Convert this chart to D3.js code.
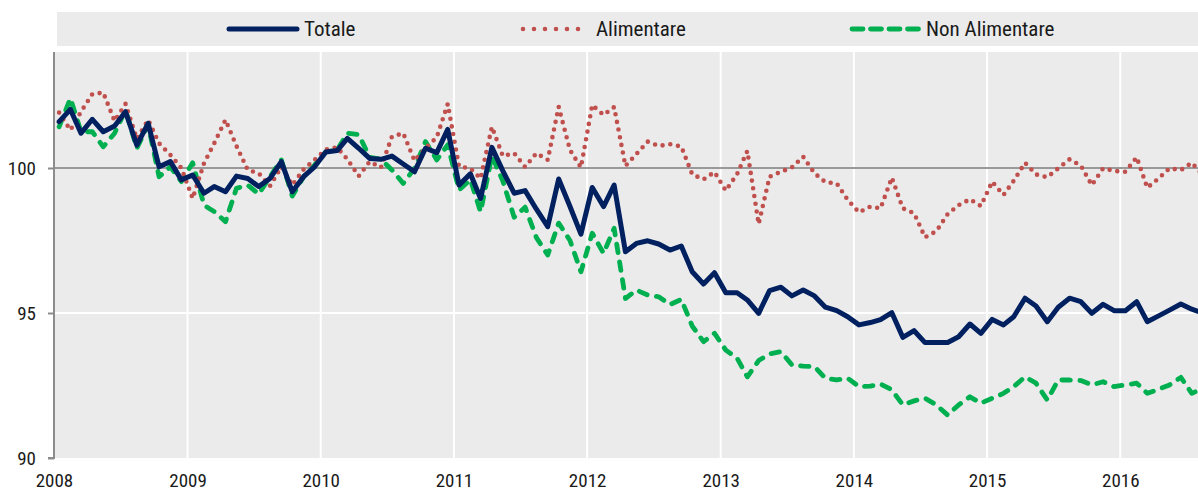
<!DOCTYPE html>
<html>
<head>
<meta charset="utf-8">
<script src="https://cdn.jsdelivr.net/npm/d3@7"></script>
<style>
  html, body { margin: 0; padding: 0; background: #ffffff; }
  svg { display: block; }
  text { font-family: "Liberation Sans Narrow", "Arial Narrow", "Roboto Condensed", "Liberation Sans", sans-serif; fill: #1a1a1a; }
</style>
</head>
<body>
<svg id="chart" width="1198" height="493"></svg>
<script>
// ---- Data (monthly, Jan 2008 onward) ----
const startMonth = "2008-01";
const seriesNames = ["Totale", "Alimentare", "Non Alimentare"];
const yTicks = [90, 95, 100];
const xTickYears = [2008, 2009, 2010, 2011, 2012, 2013, 2014, 2015, 2016];

const totale = [
  101.60, 102.02, 101.20, 101.68, 101.25, 101.45, 101.94, 100.79, 101.54, 100.04, 100.22, 99.59,
  99.76, 99.13, 99.36, 99.18, 99.72, 99.64, 99.36, 99.64, 100.22, 99.18, 99.70, 100.04,
  100.55, 100.60, 101.02, 100.68, 100.33, 100.30, 100.41, 100.14, 99.87, 100.68, 100.53, 101.33,
  99.41, 99.80, 98.95, 100.71, 99.90, 99.13, 99.22, 98.58, 97.98, 99.62, 98.67, 97.72,
  99.33, 98.67, 99.41, 97.11, 97.40, 97.49, 97.38, 97.17, 97.31, 96.42, 96.00, 96.39,
  95.70, 95.70, 95.45, 94.99, 95.77, 95.89, 95.59, 95.79, 95.59, 95.20, 95.08, 94.87,
  94.59, 94.67, 94.77, 95.01, 94.16, 94.39, 93.98, 93.98, 93.98, 94.18, 94.62, 94.30,
  94.78, 94.59, 94.87, 95.51, 95.24, 94.70, 95.20, 95.51, 95.39, 94.99, 95.30, 95.08,
  95.08, 95.39, 94.70, 94.90, 95.10, 95.31, 95.13, 95.00
];

const alimentare = [
  101.91, 101.31, 101.94, 102.55, 102.60, 101.62, 102.21, 101.00, 101.66, 100.85, 100.45, 100.00,
  98.95, 100.16, 100.85, 101.66, 100.76, 99.93, 99.82, 99.38, 100.04, 99.41, 99.95, 100.28,
  100.64, 100.71, 100.30, 99.72, 100.22, 100.02, 101.08, 101.20, 100.25, 100.68, 101.06, 102.21,
  100.05, 99.99, 99.64, 101.42, 100.41, 100.51, 100.04, 100.51, 100.28, 102.11, 100.62, 100.02,
  102.17, 101.83, 102.10, 100.07, 100.48, 100.91, 100.76, 100.82, 100.74, 99.78, 99.61, 99.86,
  99.22, 99.79, 100.59, 98.07, 99.70, 99.87, 100.02, 100.39, 99.82, 99.51, 99.47, 98.90,
  98.47, 98.67, 98.61, 99.67, 98.61, 98.44, 97.61, 97.82, 98.41, 98.72, 98.92, 98.69,
  99.53, 99.07, 99.56, 100.18, 99.78, 99.68, 99.99, 100.30, 100.08, 99.41, 99.99, 99.90,
  99.87, 100.37, 99.32, 99.64, 99.99, 99.93, 100.18, 99.75
];

const nonAlimentare = [
  101.42, 102.40, 101.25, 101.25, 100.73, 101.20, 102.00, 100.68, 101.48, 99.70, 100.04, 99.53,
  100.18, 98.72, 98.50, 98.15, 99.30, 99.41, 99.10, 99.70, 100.28, 99.03, 99.70, 100.10,
  100.56, 100.62, 101.20, 101.15, 100.37, 100.30, 99.93, 99.47, 99.99, 100.91, 100.28, 100.80,
  99.24, 99.60, 98.49, 100.42, 99.55, 98.30, 98.65, 97.60, 97.00, 98.10, 97.50, 96.42,
  97.75, 97.06, 97.92, 95.50, 95.79, 95.62, 95.56, 95.29, 95.47, 94.55, 94.01, 94.30,
  93.72, 93.44, 92.80, 93.36, 93.59, 93.67, 93.21, 93.17, 93.15, 92.75, 92.69, 92.75,
  92.46, 92.48, 92.55, 92.35, 91.83, 91.97, 92.06, 91.83, 91.48, 91.83, 92.11, 91.89,
  92.06, 92.23, 92.46, 92.80, 92.58, 92.00, 92.69, 92.69, 92.67, 92.52, 92.63, 92.46,
  92.52, 92.58, 92.23, 92.37, 92.52, 92.78, 92.23, 92.40
];

// ---- Layout ----
const svg = d3.select("#chart");
const plot = { left: 54, right: 1198, top: 52, bottom: 458 };

const parseMonth = d3.timeParse("%Y-%m");
const start = parseMonth(startMonth);
const months = totale.map((_, i) => d3.timeDay.offset(d3.timeMonth.offset(start, i), 14));

const x = d3.scaleTime()
  .domain([new Date(2008, 0, 1), new Date(2016, 7, 1)])
  .range([plot.left, plot.right]);
const y = d3.scaleLinear()
  .domain([90, 104])
  .range([plot.bottom, plot.top]);

// clip
svg.append("defs").append("clipPath").attr("id", "plotclip")
  .append("rect").attr("x", plot.left).attr("y", plot.top - 6)
  .attr("width", plot.right - plot.left).attr("height", plot.bottom - plot.top + 6);

// plot background
svg.append("rect")
  .attr("x", plot.left).attr("y", plot.top)
  .attr("width", plot.right - plot.left).attr("height", plot.bottom - plot.top)
  .attr("fill", "#EBEBEB");

// vertical white gridlines at years
svg.append("g").selectAll("line")
  .data(xTickYears.slice(1))
  .join("line")
  .attr("x1", d => x(new Date(d, 0, 1))).attr("x2", d => x(new Date(d, 0, 1)))
  .attr("y1", plot.top).attr("y2", plot.bottom)
  .attr("stroke", "#ffffff").attr("stroke-width", 2);

// horizontal white gridline(s)
svg.append("g").selectAll("line")
  .data(yTicks.filter(d => d !== 90 && d !== 100))
  .join("line")
  .attr("x1", plot.left).attr("x2", plot.right)
  .attr("y1", d => y(d)).attr("y2", d => y(d))
  .attr("stroke", "#ffffff").attr("stroke-width", 2);

// x axis line crossing at 100
svg.append("line")
  .attr("x1", plot.left).attr("x2", plot.right)
  .attr("y1", y(100)).attr("y2", y(100))
  .attr("stroke", "#999999").attr("stroke-width", 2);

// y axis
const yAxis = d3.axisLeft(y).tickValues(yTicks).tickSize(6).tickPadding(12).tickFormat(d3.format("d"));
const gy = svg.append("g").attr("transform", `translate(${plot.left},0)`).call(yAxis);
gy.select(".domain").attr("stroke", "#8c8c8c").attr("stroke-width", 2)
  .attr("d", `M-6,${plot.bottom}H0V${plot.top}`);
gy.selectAll(".tick line").attr("stroke", "#8c8c8c").attr("stroke-width", 2);
gy.selectAll(".tick text").style("font-size", "19px").attr("fill", "#1a1a1a").attr("dy", "0.35em");

// x axis labels
const xAxis = d3.axisBottom(x)
  .tickValues(xTickYears.map(d => new Date(d, 0, 1)))
  .tickSize(0).tickPadding(16).tickFormat(d3.timeFormat("%Y"));
const gx = svg.append("g").attr("transform", `translate(0,${plot.bottom})`).call(xAxis);
gx.select(".domain").remove();
gx.selectAll(".tick text").style("font-size", "19px").attr("fill", "#1a1a1a");

// lines
const line = d3.line().x((d, i) => x(months[i])).y(d => y(d)).curve(d3.curveLinear);
const g = svg.append("g").attr("clip-path", "url(#plotclip)");

const styles = {
  "Totale": { color: "#002060", width: 5, dash: null },
  "Alimentare": { color: "#C0504D", width: 4.6, dash: "0,7.8" },
  "Non Alimentare": { color: "#00B050", width: 4.8, dash: "8.5,9.5" }
};
const data = { "Totale": totale, "Alimentare": alimentare, "Non Alimentare": nonAlimentare };

["Non Alimentare", "Alimentare", "Totale"].forEach(name => {
  const s = styles[name];
  g.append("path")
    .datum(data[name])
    .attr("d", line)
    .attr("fill", "none")
    .attr("stroke", s.color)
    .attr("stroke-width", s.width)
    .attr("stroke-linejoin", "round")
    .attr("stroke-linecap", "round")
    .attr("stroke-dasharray", s.dash);
});

// legend
const legend = svg.append("g");
legend.append("rect").attr("x", 57).attr("y", 12).attr("width", 1198 - 57).attr("height", 34)
  .attr("fill", "#EBEBEB");
const legendItems = [
  { name: "Totale", x0: 229, x1: 297, tx: 304 },
  { name: "Alimentare", x0: 523, x1: 589, tx: 596 },
  { name: "Non Alimentare", x0: 852, x1: 919, tx: 926 }
];
const ly = 29;
legendItems.forEach(it => {
  const s = styles[it.name];
  legend.append("line")
    .attr("x1", it.x0).attr("x2", it.x1).attr("y1", ly).attr("y2", ly)
    .attr("stroke", s.color).attr("stroke-width", s.width)
    .attr("stroke-linecap", "round")
    .attr("stroke-dasharray", it.name === "Alimentare" ? "0,11" : (it.name === "Non Alimentare" ? "11,7.5" : null));
  legend.append("text")
    .attr("x", it.tx).attr("y", ly).attr("dy", "0.35em")
    .style("font-size", "21px")
    .text(it.name);
});
</script>
</body>
</html>
